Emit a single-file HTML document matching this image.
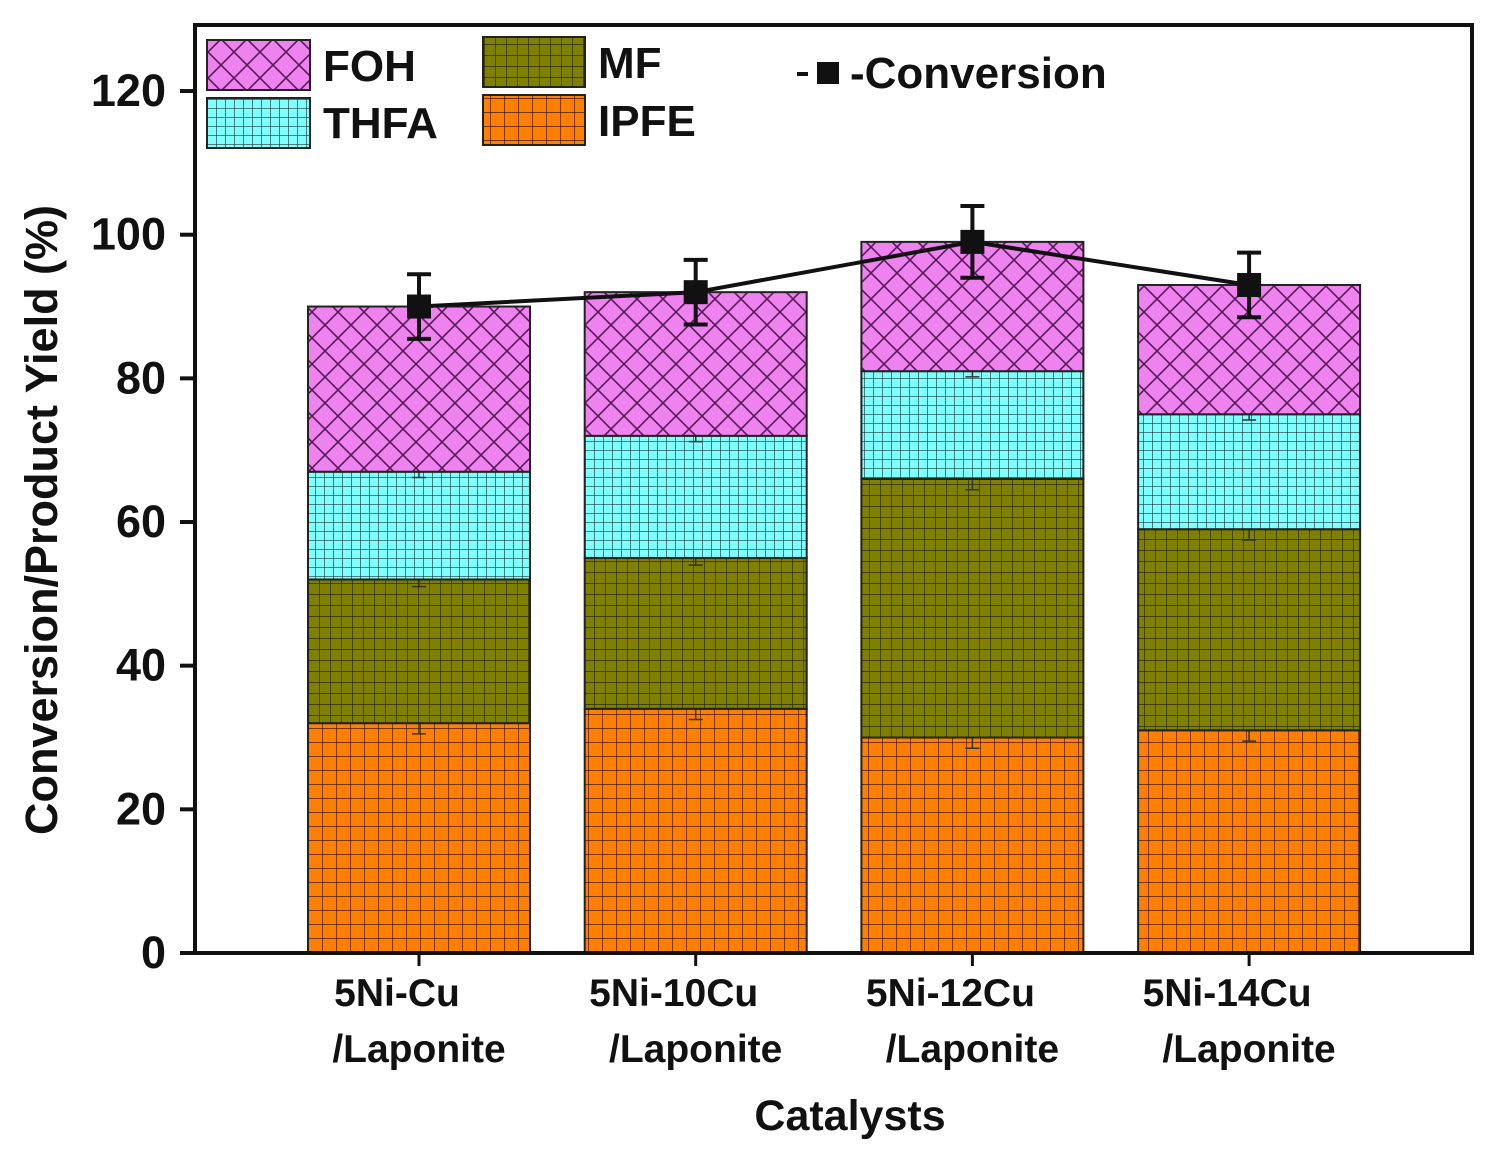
<!DOCTYPE html>
<html><head><meta charset="utf-8"><style>
body{margin:0;background:#fff;}
svg text{font-family:"Liberation Sans",Arial,sans-serif;font-weight:bold;fill:#111;}
</style></head><body>
<svg width="1505" height="1155" xmlns="http://www.w3.org/2000/svg">
<defs>
<pattern id="pFOH" width="26" height="26" patternUnits="userSpaceOnUse"><rect width="26" height="26" fill="#EE82EE"/><path d="M0 0L26 26M26 0L0 26" stroke="#5a1a5a" stroke-width="1.6"/></pattern>
<pattern id="pTHFA" width="9" height="9" patternUnits="userSpaceOnUse"><rect width="9" height="9" fill="#80FFFF"/><path d="M0 0H9M0 0V9" stroke="#1a3a3a" stroke-width="1.3"/></pattern>
<pattern id="pMF" width="11" height="11" patternUnits="userSpaceOnUse"><rect width="11" height="11" fill="#808000"/><path d="M0 0H11M0 0V11" stroke="#2a2a00" stroke-width="1.4"/></pattern>
<pattern id="pIPFE" width="14" height="14" patternUnits="userSpaceOnUse"><rect width="14" height="14" fill="#FF8000"/><path d="M0 0H14M0 0V14" stroke="#4a1a00" stroke-width="1.4"/></pattern>
</defs>
<g id="plot"></g>
<rect x="195" y="25" width="1277" height="928" fill="none" stroke="#111" stroke-width="4"/>
<text transform="translate(57,520) rotate(-90)" text-anchor="middle" font-size="45">Conversion/Product Yield (%)</text>
<text x="850" y="1130" text-anchor="middle" font-size="43">Catalysts</text>
<g>
<rect x="207" y="40" width="103" height="50" fill="url(#pFOH)" stroke="#222" stroke-width="2"/>
<text x="323" y="81" font-size="44">FOH</text>
<rect x="207" y="98" width="103" height="50" fill="url(#pTHFA)" stroke="#222" stroke-width="2"/>
<text x="323" y="138" font-size="44">THFA</text>
<rect x="483" y="37" width="102" height="50" fill="url(#pMF)" stroke="#222" stroke-width="2"/>
<text x="598" y="78" font-size="44">MF</text>
<rect x="483" y="95" width="102" height="50" fill="url(#pIPFE)" stroke="#222" stroke-width="2"/>
<text x="598" y="136" font-size="44">IPFE</text>
<line x1="797" y1="74" x2="808" y2="74" stroke="#111" stroke-width="4"/>
<rect x="817" y="62" width="22" height="22" fill="#111"/>
<text x="850" y="88" font-size="44">-Conversion</text>
</g>
</svg>
<script>
const categories=["5Ni-Cu","5Ni-10Cu","5Ni-12Cu","5Ni-14Cu"];
const ipfe=[32,34,30,31];
const mf=[20,21,36,28];
const thfa=[15,17,15,16];
const foh=[23,20,18,18];
const conversion=[90,92,99,93];
const convErr=[4.5,4.5,5,4.5];
const segErr=[[1.5,1.5,1.5,1.5],[1,1,1.5,1.5],[0.8,0.8,0.8,0.8]];
const yTicks=[0,20,40,60,80,100,120];
const NS="http://www.w3.org/2000/svg";
const g=document.getElementById('plot');
const y=v=>953-v*7.183;
const xc=i=>419+i*276.7;
const bw=222;
function mk(t,a){const e=document.createElementNS(NS,t);for(const k in a)e.setAttribute(k,a[k]);g.appendChild(e);return e;}
yTicks.forEach(t=>{
 const l=mk('line',{x1:180,x2:195,y1:y(t),y2:y(t),stroke:'#111','stroke-width':4});
 
 
 const tx=mk('text',{x:166,y:y(t)+15,'text-anchor':'end','font-size':45});tx.textContent=t;
 
 
});
const series=[["ipfe",ipfe,"pIPFE"],["mf",mf,"pMF"],["thfa",thfa,"pTHFA"],["foh",foh,"pFOH"]];
categories.forEach((c,i)=>{
 let base=0;
 series.forEach(([nm,arr,p],si)=>{
  const top=base+arr[i];
  const r=mk('rect',{x:xc(i)-bw/2,y:y(top),width:bw,height:y(base)-y(top),fill:'url(#'+p+')',stroke:'#222','stroke-width':2});
  
  
  base=top;
  if(si<3){const e=segErr[si][i];
   const eb=mk('path',{d:`M${xc(i)-7} ${y(top+e)}H${xc(i)+7}M${xc(i)} ${y(top+e)}V${y(top-e)}M${xc(i)-7} ${y(top-e)}H${xc(i)+7}`,stroke:'#333','stroke-width':1.5,fill:'none'});
   
   }
 });
 const tk=mk('line',{x1:xc(i),x2:xc(i),y1:953,y2:966,stroke:'#111','stroke-width':3});
 
 
 const t1=mk('text',{x:xc(i)-22,y:1006,'text-anchor':'middle','font-size':39});t1.textContent=c;
 
 
 const t2=mk('text',{x:xc(i),y:1062,'text-anchor':'middle','font-size':39});t2.textContent='/Laponite';
 
 
});
const pl=mk('polyline',{points:conversion.map((v,i)=>xc(i)+','+y(v)).join(' '),fill:'none',stroke:'#111','stroke-width':4});


conversion.forEach((v,i)=>{
 const e=convErr[i];
 const eb=mk('path',{d:`M${xc(i)-12} ${y(v+e)}H${xc(i)+12}M${xc(i)} ${y(v+e)}V${y(v-e)}M${xc(i)-12} ${y(v-e)}H${xc(i)+12}`,stroke:'#111','stroke-width':4,fill:'none'});
 
 
 const m=mk('rect',{x:xc(i)-12,y:y(v)-12,width:24,height:24,fill:'#111'});
 
 
});
</script>
</body></html>
